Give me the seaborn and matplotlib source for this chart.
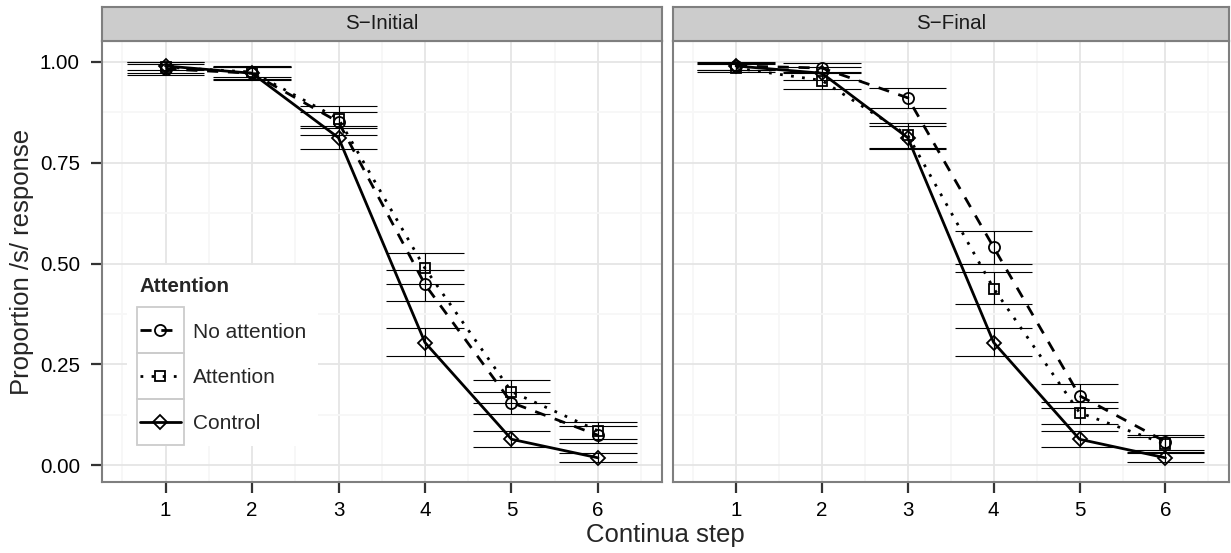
import numpy as np
import pandas as pd
import matplotlib
matplotlib.use("Agg")
import matplotlib.pyplot as plt
import seaborn as sns
from matplotlib.lines import Line2D
from matplotlib.patches import Rectangle

# ---------------- data ----------------
steps = [1, 2, 3, 4, 5, 6]
panels = ["S\u2212Initial", "S\u2212Final"]
conditions = ["No attention", "Attention", "Control"]
y_ticks = [0.00, 0.25, 0.50, 0.75, 1.00]

init_noatt = [0.983, 0.972, 0.851, 0.448, 0.155, 0.074]
init_noatt_lo = [0.967, 0.957, 0.820, 0.407, 0.126, 0.054]
init_noatt_hi = [0.996, 0.988, 0.877, 0.485, 0.182, 0.097]

init_att = [0.987, 0.975, 0.859, 0.488, 0.182, 0.085]
init_att_lo = [0.973, 0.962, 0.836, 0.449, 0.153, 0.064]
init_att_hi = [0.999, 0.990, 0.890, 0.527, 0.211, 0.107]

init_ctrl = [0.990, 0.972, 0.812, 0.304, 0.064, 0.018]
init_ctrl_lo = [0.979, 0.955, 0.783, 0.271, 0.045, 0.007]
init_ctrl_hi = [1.000, 0.988, 0.841, 0.340, 0.085, 0.029]

final_noatt = [0.990, 0.985, 0.911, 0.540, 0.172, 0.058]
final_noatt_lo = [0.979, 0.973, 0.886, 0.499, 0.142, 0.037]
final_noatt_hi = [0.998, 0.998, 0.935, 0.580, 0.202, 0.074]

final_att = [0.985, 0.954, 0.818, 0.438, 0.130, 0.052]
final_att_lo = [0.975, 0.934, 0.787, 0.399, 0.103, 0.033]
final_att_hi = [0.996, 0.975, 0.849, 0.478, 0.157, 0.070]

final_ctrl = [0.990, 0.972, 0.812, 0.304, 0.064, 0.018]
final_ctrl_lo = [0.979, 0.955, 0.783, 0.271, 0.045, 0.007]
final_ctrl_hi = [1.000, 0.988, 0.841, 0.340, 0.085, 0.029]

series = {
    (panels[0], "No attention"): (init_noatt, init_noatt_lo, init_noatt_hi),
    (panels[0], "Attention"): (init_att, init_att_lo, init_att_hi),
    (panels[0], "Control"): (init_ctrl, init_ctrl_lo, init_ctrl_hi),
    (panels[1], "No attention"): (final_noatt, final_noatt_lo, final_noatt_hi),
    (panels[1], "Attention"): (final_att, final_att_lo, final_att_hi),
    (panels[1], "Control"): (final_ctrl, final_ctrl_lo, final_ctrl_hi),
}
rows = []
for (pan, cond), (v, lo, hi) in series.items():
    for s, a, b, c in zip(steps, v, lo, hi):
        rows.append(dict(panel=pan, cond=cond, step=s, prop=a, lo=b, hi=c))
df = pd.DataFrame(rows)

# ---------------- style ----------------
sns.set_theme(style="white")
plt.rcParams["font.family"] = ["Liberation Sans", "DejaVu Sans"]

markers = {"No attention": "o", "Attention": "s", "Control": "D"}
msizes = {"No attention": 8, "Attention": 7, "Control": 7}
dashes = {"No attention": (4, 3.5), "Attention": (1, 3), "Control": ""}
LW = 2.0
EB_HALF = 0.45

W, H = 1231, 553
fig = plt.figure(figsize=(W / 100, H / 100), dpi=100)


def fbox(x0, y0, x1, y1):
    return [x0 / W, 1 - y1 / H, (x1 - x0) / W, (y1 - y0) / H]


panel_px = [(101.5, 41, 662, 482), (672.5, 41, 1229, 482)]
axes = []
for i, pan in enumerate(panels):
    x0, y0, x1, y1 = panel_px[i]
    ax = fig.add_axes(fbox(x0, y0, x1, y1))
    axes.append(ax)
    sub = df[df.panel == pan]
    # error bars
    for cond in conditions:
        d = sub[sub.cond == cond]
        ax.vlines(d.step, d.lo, d.hi, color="black", lw=0.8, zorder=2)
        ax.hlines(d.lo, d.step - EB_HALF, d.step + EB_HALF, color="black", lw=0.8, zorder=2)
        ax.hlines(d.hi, d.step - EB_HALF, d.step + EB_HALF, color="black", lw=0.8, zorder=2)
    sns.lineplot(data=sub, x="step", y="prop", style="cond", style_order=conditions,
                 markers=markers, dashes=dashes, color="black", lw=LW,
                 mec="black", mew=1.3, mfc="none", errorbar=None,
                 legend=False, ax=ax, zorder=3)
    for ln in ax.get_lines():
        ln.set_markerfacecolor("none")
        ln.set_markeredgecolor("black")
        m = ln.get_marker()
        for c, mk in markers.items():
            if m == mk:
                ln.set_markersize(msizes[c])

    ax.set_xlim(0.26, 6.74)
    ax.set_ylim(-0.042, 1.052)
    ax.set_xticks(steps)
    ax.set_xticklabels([str(s) for s in steps])
    ax.set_xticks(np.arange(0.5, 7.0, 1.0), minor=True)
    ax.set_yticks(y_ticks)
    ax.set_yticklabels([f"{v:.2f}" for v in y_ticks])
    ax.set_yticks(np.arange(0.125, 1.0, 0.25), minor=True)
    ax.grid(True, which="major", color="#e5e5e5", lw=1.3)
    ax.grid(True, which="minor", color="#f7f7f7", lw=1.3)
    ax.set_axisbelow(True)
    ax.set_xlabel("")
    ax.set_ylabel("")
    for sp in ax.spines.values():
        sp.set_color("#7f7f7f")
        sp.set_linewidth(1.5)
    ax.tick_params(which="major", length=8, width=1.6, color="#333333",
                   labelsize=14.8, labelcolor="black")
    ax.tick_params(axis="y", pad=7.5)
    ax.tick_params(axis="x", pad=5.5)
    ax.tick_params(which="minor", length=0)
    ax.tick_params(axis="y", left=True)
    ax.tick_params(axis="x", bottom=True)
    if i == 1:
        ax.tick_params(axis="y", left=False, labelleft=False)

    # strip
    sax = fig.add_axes(fbox(x0, 6.5, x1, 41))
    sax.set_facecolor("#cccccc")
    sax.set_xticks([])
    sax.set_yticks([])
    for sp in sax.spines.values():
        sp.set_color("#7f7f7f")
        sp.set_linewidth(1.5)
    sax.text(0.5, 0.5, pan, ha="center", va="center", fontsize=14.8,
             color="#1a1a1a", transform=sax.transAxes)

fig.text(22 / W, 1 - 261.5 / H, "Proportion /s/ response", rotation=90,
         ha="center", va="center", fontsize=18.5)
fig.text(665 / W, 1 - 535 / H, "Continua step", ha="center", va="center",
         fontsize=18.5)

# legend
axL = axes[0]
handles = []
for c in conditions:
    kw = dict(color="black", lw=LW, marker=markers[c], ms=msizes[c],
              mfc="none", mec="black", mew=1.3)
    if dashes[c]:
        kw["dashes"] = dashes[c]
    else:
        kw["linestyle"] = "-"
    handles.append(Line2D([], [], **kw))
leg = axL.legend(handles, conditions, title="Attention", loc="upper left",
                 bbox_to_anchor=((127 - 101.5) / 560.5, (482 - 264.5) / 441),
                 bbox_transform=axL.transAxes, borderaxespad=0, frameon=True,
                 fancybox=False, facecolor="white", edgecolor="none", framealpha=1,
                 fontsize=15, title_fontproperties={"weight": "bold", "size": 14.8},
                 alignment="left", handlelength=2.0, handletextpad=0.55,
                 labelspacing=1.28, borderpad=0.6)
leg.set_zorder(10)

fig.canvas.draw()
r = fig.canvas.get_renderer()
inv = fig.transFigure.inverted()
for h in leg.legend_handles:
    bb = h.get_window_extent(r)
    cx, cy = (bb.x0 + bb.x1) / 2, (bb.y0 + bb.y1) / 2
    (fx0, fy0) = inv.transform((cx - 23.5, cy - 23))
    (fx1, fy1) = inv.transform((cx + 23.5, cy + 23))
    fig.add_artist(Rectangle((fx0, fy0), fx1 - fx0, fy1 - fy0, transform=fig.transFigure,
                             facecolor="none", edgecolor="#cccccc", lw=1.3, zorder=20))

fig.savefig("out.png", dpi=100)
